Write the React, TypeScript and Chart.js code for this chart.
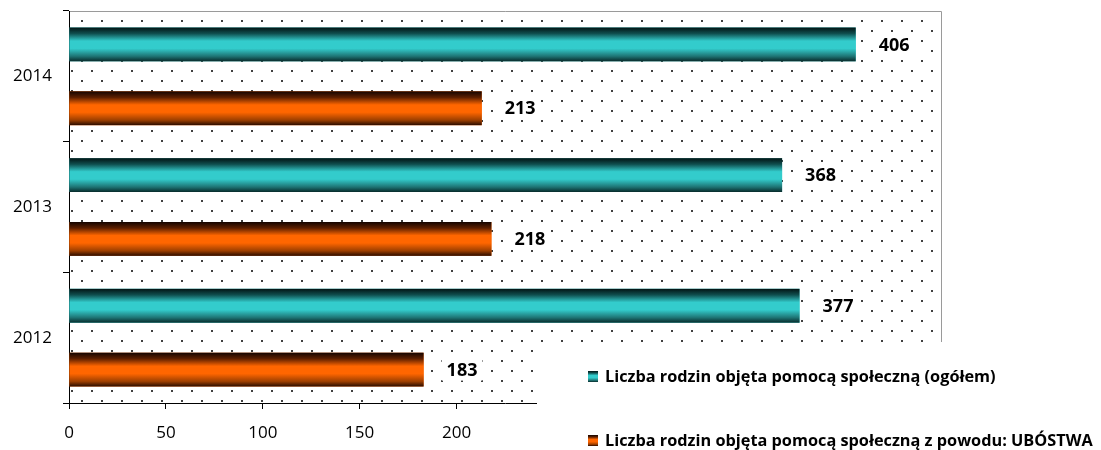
import React, { useEffect, useRef } from "react";
import { Chart, registerables } from "chart.js";

Chart.register(...registerables);

const categories = ["2014", "2013", "2012"];
const seriesTotal = [406, 368, 377];
const seriesPoverty = [213, 218, 183];
const seriesNames = [
  "Liczba rodzin objęta pomocą społeczną (ogółem)",
  "Liczba rodzin objęta pomocą społeczną z powodu: UBÓSTWA",
];
const xMin = 0;
const xMax = 450;
const xStep = 50;

const FONT = "'Open Sans', 'DejaVu Sans', sans-serif";

const TEAL_STOPS: [number, string][] = [
  [0, "#021414"],
  [0.18, "#0f4f4f"],
  [0.4, "#33cccc"],
  [0.62, "#33cccc"],
  [0.85, "#1e7474"],
  [1, "#082b2b"],
];
const ORANGE_STOPS: [number, string][] = [
  [0, "#140400"],
  [0.18, "#5c1f00"],
  [0.4, "#ff6600"],
  [0.62, "#ff6600"],
  [0.85, "#9e3f00"],
  [1, "#2a0c00"],
];
const STOPS = [TEAL_STOPS, ORANGE_STOPS];

function grad(ctx: CanvasRenderingContext2D, top: number, h: number, stops: [number, string][]) {
  const g = ctx.createLinearGradient(0, top, 0, top + h);
  stops.forEach(([o, c]) => g.addColorStop(o, c));
  return g;
}

const decorPlugin = {
  id: "decor",
  beforeDraw(chart: any) {
    const { ctx, chartArea: a } = chart;
    const tile = document.createElement("canvas");
    tile.width = 20;
    tile.height = 20;
    const t = tile.getContext("2d")!;
    t.fillStyle = "#404040";
    t.fillRect(1, 0, 2, 2);
    t.fillRect(11, 10, 2, 2);
    const pat = ctx.createPattern(tile, "repeat");
    ctx.save();
    ctx.fillStyle = pat;
    ctx.fillRect(a.left, a.top, a.right - a.left, a.bottom - a.top);
    ctx.strokeStyle = "#9a9a9a";
    ctx.lineWidth = 1;
    ctx.beginPath();
    ctx.moveTo(a.left, a.top + 0.5);
    ctx.lineTo(a.right + 0.5, a.top + 0.5);
    ctx.lineTo(a.right + 0.5, a.bottom);
    ctx.stroke();
    ctx.restore();
  },
  afterDatasetsDraw(chart: any) {
    const { ctx } = chart;
    ctx.save();
    chart.data.datasets.forEach((ds: any, i: number) => {
      const meta = chart.getDatasetMeta(i);
      meta.data.forEach((el: any, j: number) => {
        const { x, y, base, height } = el.getProps(["x", "y", "base", "height"], true);
        const top = y - height / 2;
        ctx.fillStyle = grad(ctx, top, height, STOPS[i]);
        ctx.fillRect(base, top, x - base, height);
        const txt = String(ds.data[j]);
        ctx.font = `bold 18px ${FONT}`;
        const w = ctx.measureText(txt).width;
        const tx = x + 23;
        ctx.fillStyle = "#ffffff";
        ctx.fillRect(tx - 5, y - 11, w + 10, 22);
        ctx.fillStyle = "#000000";
        ctx.textBaseline = "middle";
        ctx.textAlign = "left";
        ctx.fillText(txt, tx, y + 1);
      });
    });
    ctx.restore();
  },
  afterDraw(chart: any) {
    const { ctx } = chart;
    ctx.save();
    ctx.fillStyle = "#ffffff";
    ctx.fillRect(537, 342, chart.width - 537, chart.height - 342);
    const rows = [377, 441];
    chart.data.datasets.forEach((ds: any, i: number) => {
      const cy = rows[i];
      ctx.fillStyle = grad(ctx, cy - 6, 11, STOPS[i]);
      ctx.fillRect(588, cy - 6, 10, 11);
      ctx.fillStyle = "#000";
      ctx.font = `bold 16.3px ${FONT}`;
      ctx.textBaseline = "middle";
      ctx.textAlign = "left";
      ctx.fillText(ds.label, 605, cy);
    });
    ctx.restore();
  },
};

const noPad = (s: any) => {
  s.paddingTop = 0;
  s.paddingBottom = 0;
  s.paddingLeft = 0;
  s.paddingRight = 0;
};

export default function App() {
  const ref = useRef<HTMLCanvasElement>(null);
  useEffect(() => {
    const chart = new Chart(ref.current!, {
      type: "bar",
      data: {
        labels: categories,
        datasets: [
          {
            label: seriesNames[0],
            data: seriesTotal,
            backgroundColor: "#33cccc",
            borderWidth: 0,
            categoryPercentage: 0.977,
            barPercentage: 0.53,
          },
          {
            label: seriesNames[1],
            data: seriesPoverty,
            backgroundColor: "#ff6600",
            borderWidth: 0,
            categoryPercentage: 0.977,
            barPercentage: 0.53,
          },
        ],
      },
      options: {
        indexAxis: "y",
        responsive: false,
        animation: false,
        devicePixelRatio: 1,
        layout: { padding: { top: 11, right: 160, left: 0, bottom: 0 } },
        plugins: {
          legend: { display: false },
          tooltip: { enabled: false },
        },
        scales: {
          x: {
            min: xMin,
            max: xMax,
            ticks: {
              stepSize: xStep,
              color: "#000",
              font: { family: FONT, size: 17 },
              padding: 14,
              maxRotation: 0,
            },
            grid: {
              display: true,
              drawOnChartArea: false,
              drawTicks: true,
              tickLength: 6,
              color: "#000",
            },
            border: { display: true, color: "#000" },
            afterFit: (s: any) => {
              s.height = 47;
              noPad(s);
            },
          },
          y: {
            ticks: {
              color: "#000",
              font: { family: FONT, size: 17 },
              padding: 11,
            },
            grid: {
              display: true,
              drawOnChartArea: false,
              drawTicks: true,
              tickLength: 6,
              color: "#000",
              offset: true,
            },
            border: { display: true, color: "#000" },
            afterFit: (s: any) => {
              s.width = 69;
              noPad(s);
            },
          },
        },
      },
      plugins: [decorPlugin],
    });
    return () => chart.destroy();
  }, []);
  return (
    <div style={{ position: "absolute", left: 0, top: 0, width: 1101, height: 450, background: "#fff" }}>
      <canvas ref={ref} width={1101} height={450} />
    </div>
  );
}
